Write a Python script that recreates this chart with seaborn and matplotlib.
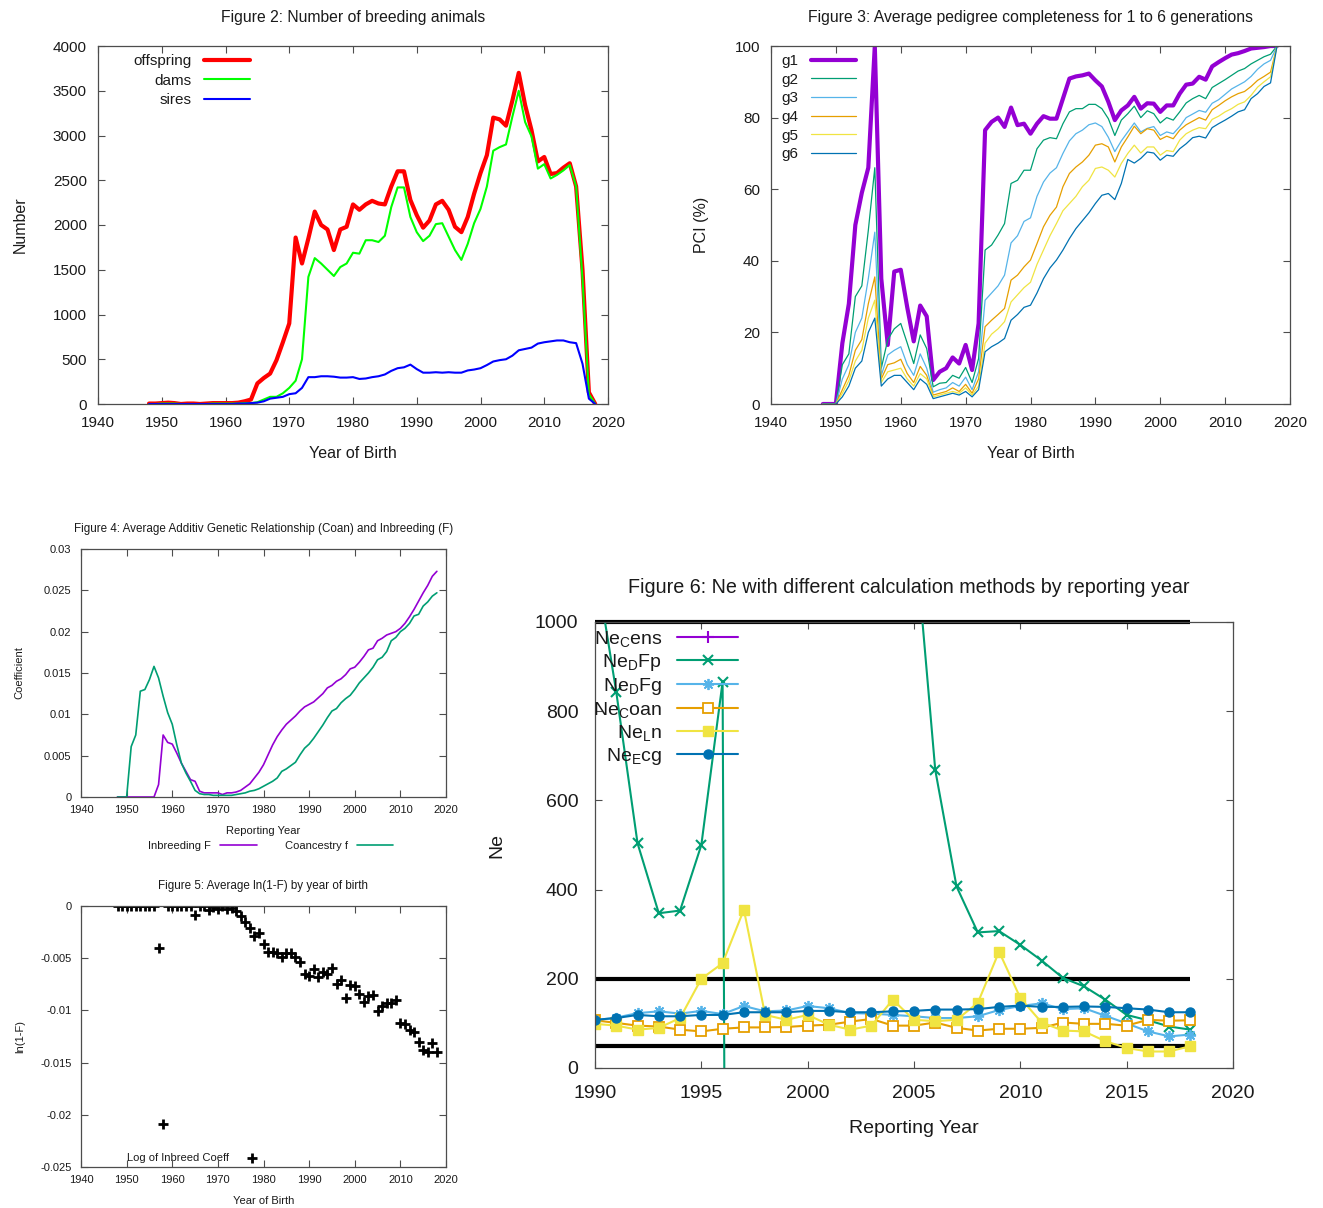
import numpy as np
import pandas as pd
import matplotlib
matplotlib.use("Agg")
import matplotlib.pyplot as plt
import seaborn as sns
from matplotlib.ticker import FuncFormatter, MultipleLocator

sns.set_style("ticks")
plt.rcParams["font.family"] = ["Liberation Sans", "DejaVu Sans"]
plt.rcParams["axes.unicode_minus"] = False
plt.rcParams["mathtext.fontset"] = "custom"
plt.rcParams["mathtext.rm"] = "Liberation Sans"
plt.rcParams["mathtext.it"] = "Liberation Sans:italic"
plt.rcParams["mathtext.bf"] = "Liberation Sans:bold"
plt.rcParams["text.color"] = "#1a1a1a"
plt.rcParams["axes.labelcolor"] = "#1a1a1a"

# gnuplot default line colours
PURPLE, GREEN, SKY = "#9400d3", "#009e73", "#56b4e9"
ORANGE, YELLOW, BLUE = "#e69f00", "#f0e442", "#0072b2"

# ---------------------------------------------------------------
# Figure 2 / 3 / 4 / 5 : one value per year of birth, 1948-2018
birth_years = list(range(1948, 2019))

offspring = [5, 5,
             10, 15, 10, 0, 5, 5, 0, 5, 10, 10,
             10, 10, 15, 30, 50, 230, 290, 340, 490, 690,
             900, 1860, 1570, 1850, 2150, 2000, 1950, 1720, 1950, 1980,
             2230, 2170, 2230, 2270, 2240, 2230, 2430, 2600, 2600, 2280,
             2110, 1970, 2050, 2230, 2270, 2170, 1980, 1920, 2090, 2350,
             2580, 2780, 3200, 3180, 3110, 3390, 3700, 3340, 3060, 2710,
             2760, 2570, 2580, 2640, 2690, 2430, 1500, 130, 0]
dams = [0, 0,
        5, 5, 5, 0, 0, 0, 0, 0, 5, 5,
        5, 5, 5, 10, 10, 20, 50, 80, 80, 120,
        180, 260, 500, 1420, 1630, 1570, 1500, 1430, 1530, 1570,
        1690, 1680, 1830, 1830, 1810, 1880, 2200, 2420, 2420, 2090,
        1920, 1820, 1880, 2010, 2020, 1870, 1720, 1610, 1790, 2020,
        2180, 2430, 2830, 2870, 2900, 3210, 3500, 3150, 2990, 2630,
        2680, 2520, 2560, 2610, 2670, 2430, 1400, 110, 0]
sires = [0, 0,
         0, 0, 0, 0, 0, 0, 0, 0, 0, 0,
         0, 0, 5, 5, 10, 15, 30, 60, 70, 80,
         110, 120, 180, 300, 300, 310, 310, 305, 295, 295,
         300, 280, 285, 300, 310, 330, 370, 400, 410, 440,
         390, 350, 350, 355, 350, 355, 350, 350, 375, 385,
         400, 435, 475, 490, 500, 540, 600, 615, 630, 675,
         690, 700, 710, 710, 690, 680, 450, 60, 0]

# pedigree completeness index (%) for 1..6 generations
pci_g1 = [0, 0,
          0, 17, 28, 50, 59, 66, 100, 35, 16.5, 37,
          37.5, 27, 17.5, 27.5, 24.5, 6.7, 9, 10, 13, 11.3,
          16.5, 9.5, 22.5, 76.5, 78.8, 80, 77.4, 82.8, 77.9, 78.3,
          75.5, 78.3, 80.4, 79.7, 79.7, 85.3, 90.9, 91.5, 91.8, 92.3,
          90.4, 88.7, 84.4, 79.3, 82, 83.4, 85.8, 82.5, 84, 83.9,
          81.6, 83.4, 83.4, 86.7, 89.2, 89.5, 91.4, 90.6, 94.3, 95.5,
          96.6, 97.6, 98, 98.6, 99.3, 99.5, 99.7, 100, 100]
pci_g2 = [0, 0,
          0, 11, 14, 30, 33, 48.5, 66, 10, 18, 21,
          22.5, 17, 11.3, 19.3, 15.5, 4.8, 5.8, 6, 8, 7.2,
          10.2, 6, 12.7, 43, 44.4, 47.2, 50.4, 61.6, 62.5, 65.3,
          65.3, 71.3, 73.7, 74.4, 74.1, 78.3, 81.6, 82.5, 82.5, 83.7,
          83.7, 82.5, 79.7, 75, 79.3, 81.1, 83.2, 80, 81.9, 81.1,
          78.5, 80, 79.3, 81.6, 84.1, 85.3, 86.2, 85.3, 88.4, 89.5,
          90.6, 91.8, 93, 93.7, 95, 96, 97, 97.7, 100]
pci_g3 = [0, 0,
          0, 7, 11, 20, 24, 35, 48, 8, 13.7, 15,
          16, 11, 8, 14, 10, 3.3, 4, 4.5, 6, 5,
          7.5, 4, 9, 29, 31, 33, 36, 45, 47, 51,
          52, 58, 62, 64.5, 66, 70, 73.5, 75.5, 76.5, 78,
          78.5, 77.5, 74.5, 70.5, 73.5, 76, 78.5, 76, 77, 77.5,
          75, 76, 75.5, 77.5, 80, 81, 82, 81.5, 84, 85,
          86.5, 88, 89, 90, 91.5, 93.5, 95, 96, 100]
pci_g4 = [0, 0,
          0, 4, 8, 15, 18, 28, 35.5, 7, 11, 11.5,
          12.5, 8.5, 6, 10.5, 8, 2.5, 3, 3.5, 4.5, 3.5,
          5.5, 3, 7, 21.6, 23.4, 25, 26.7, 34.6, 36, 38.3,
          40.2, 44.8, 49.5, 52.7, 55, 60.7, 64.4, 66.2, 67.6, 69.5,
          72.3, 72.7, 71.8, 67.6, 71.8, 74.6, 77.6, 75.5, 76.9, 76.5,
          73.9, 74.8, 74.1, 76.5, 78, 79, 80, 79.3, 82.2, 83.4,
          84.7, 85.8, 86.7, 87.3, 88.7, 90.4, 91.5, 92.7, 100]
pci_g5 = [0, 0,
          0, 3, 6.5, 12, 15, 24, 29, 6, 9, 9.5,
          10, 7, 5, 8.5, 7, 2, 2.5, 3, 3.5, 3,
          4.5, 2.5, 5, 17, 19.5, 21, 23, 28.5, 30.5, 32.5,
          34, 39, 43, 47, 50.4, 54, 56, 58, 60.7, 62.5,
          65.8, 66.2, 65.3, 63.4, 67.2, 70, 72.3, 70.1, 71.8, 71.8,
          69.5, 70.8, 70.5, 73.7, 75.5, 76.5, 77.2, 76.9, 79.5, 80.4,
          81.6, 82.5, 83.7, 84.4, 86.2, 88.5, 90, 91.4, 100]
pci_g6 = [0, 0,
          0, 2, 5, 10, 12, 20, 24, 5, 7, 8,
          8, 6, 4, 7, 5.5, 1.5, 2, 2.5, 3, 2.5,
          3.5, 2, 4, 14.6, 16, 17, 18.3, 23.4, 25, 27,
          27.6, 31, 35, 38, 40.2, 43, 46.2, 49, 51.2, 53.4,
          56, 58.3, 58.8, 57.1, 61.6, 68.3, 67.3, 68.6, 70.4, 70.1,
          68.1, 69.5, 69.2, 71.3, 72.7, 74.4, 74.8, 74.3, 77.2, 78.3,
          79.3, 80.4, 81.6, 82.2, 85.3, 86.7, 88.7, 89.7, 100]

inbreeding_f = [0, 0,
                0, 0, 0, 0, 0, 0, 0, 0.0015, 0.0075, 0.0066,
                0.0064, 0.0053, 0.0041, 0.0031, 0.0021, 0.0019, 0.0007, 0.0005, 0.0005, 0.0005,
                0.0005, 0.0003, 0.0005, 0.0005, 0.0006, 0.0008, 0.0012, 0.0016, 0.0023, 0.003,
                0.0039, 0.0051, 0.0063, 0.0073, 0.0081, 0.0088, 0.0093, 0.0098, 0.0104, 0.0109,
                0.0112, 0.0115, 0.012, 0.0125, 0.0132, 0.0135, 0.014, 0.0143, 0.0148, 0.0155,
                0.0157, 0.0163, 0.017, 0.0178, 0.018, 0.0189, 0.0192, 0.0196, 0.0198, 0.02,
                0.0204, 0.021, 0.0218, 0.0227, 0.0237, 0.0247, 0.0256, 0.0267, 0.0273]
coancestry_f = [0, 0,
                0, 0.0061, 0.0075, 0.0128, 0.013, 0.0142, 0.0158, 0.0144, 0.0122, 0.0102,
                0.0088, 0.0063, 0.0041, 0.0029, 0.0019, 0.0008, 0.0004, 0.0003, 0.0003, 0.0002,
                0.0002, 0.0002, 0.0002, 0.0002, 0.0003, 0.0004, 0.0005, 0.0007, 0.0008, 0.001,
                0.0013, 0.0016, 0.0019, 0.0023, 0.0031, 0.0034, 0.0038, 0.0042, 0.0051, 0.0059,
                0.0064, 0.0071, 0.0079, 0.0087, 0.0096, 0.0104, 0.0107, 0.0114, 0.0119, 0.0123,
                0.013, 0.0138, 0.0144, 0.015, 0.0157, 0.0166, 0.0169, 0.0176, 0.0189, 0.0193,
                0.02, 0.0204, 0.021, 0.0219, 0.0221, 0.0231, 0.0236, 0.0243, 0.0247]

log_one_minus_f = [0, 0,
                   0, 0, 0, 0, 0, 0, 0, -0.004, -0.0209, 0,
                   0, 0, 0, 0, 0, -0.0009, 0, 0, -0.0004, -0.0001,
                   -0.0003, 0, -0.0003, -0.0002, -0.0005, -0.001, -0.0015, -0.0021, -0.0029, -0.0026,
                   -0.0036, -0.0044, -0.0044, -0.0045, -0.0049, -0.0045, -0.0045, -0.0049, -0.0054, -0.0065,
                   -0.0067, -0.006, -0.0068, -0.0063, -0.0065, -0.0059, -0.0075, -0.0071, -0.0088, -0.0076,
                   -0.0077, -0.0084, -0.0092, -0.0086, -0.0085, -0.0101, -0.0096, -0.0093, -0.0093, -0.009,
                   -0.0112, -0.0113, -0.0119, -0.0121, -0.013, -0.0138, -0.014, -0.0131, -0.014]

# ---------------------------------------------------------------
# Figure 6 : Ne by reporting year, 1990-2018
ne_years = list(range(1990, 2019))
# no point of the census series falls inside the plotted 0-1000 range
ne_cens = [np.nan] * len(ne_years)
ne_dfp = [1140, 843, 504, 347, 353, 500, 866, -10000,
          np.nan, np.nan, np.nan, np.nan, np.nan, np.nan, np.nan,
          1220, 668, 407, 304, 307, 276, 241, 202, 183, 153, 119, 107, 93, 86]
ne_dfg = [107, 113, 123, 127, 122, 128, 121, 139, 127, 129,
          139, 134, 123, 122, 119, 116, 112, 112, 116, 130,
          139, 145, 132, 134, 117, 100, 82, 71, 75]
ne_coan = [107, 101, 95, 93, 86, 82, 88, 91, 91, 92,
           95, 97, 104, 110, 95, 95, 102, 90, 84, 88,
           88, 90, 102, 99, 99, 95, 108, 106, 107]
ne_ln = [99, 95, 86, 90, 112, 200, 235, 355, 119, 108,
         119, 97, 86, 95, 153, 108, 105, 108, 146, 261,
         157, 102, 84, 82, 60, 45, 37, 37, 49]
ne_ecg = [108, 112, 119, 116, 116, 119, 119, 125, 125, 125,
          128, 128, 125, 125, 127, 128, 131, 131, 132, 137,
          140, 137, 137, 138, 137, 134, 131, 125, 125]
ne_limits = [1000, 200, 50]


def gnuplot_frame(ax, size, xpad, ypad):
    for sp in ax.spines.values():
        sp.set_visible(True)
        sp.set_color("#4d4d4d")
        sp.set_linewidth(0.9)
    ax.tick_params(direction="in", top=True, right=True, length=5, width=0.8,
                   color="#4d4d4d", labelsize=size, labelcolor="#1a1a1a")
    ax.tick_params(axis="x", pad=xpad)
    ax.tick_params(axis="y", pad=ypad)


def right_align(leg):
    # gnuplot style key: text right justified in front of the sample
    for col in leg._legend_box._children[-1]._children:
        col.align = "right"


short_num = FuncFormatter(lambda v, p: "0" if abs(v) < 1e-12 else f"{v:g}")

W, H = 1323, 1208
fig = plt.figure(figsize=(W / 100, H / 100), dpi=100)


def box(x0, y0, x1, y1):
    return [x0 / W, 1 - y1 / H, (x1 - x0) / W, (y1 - y0) / H]


ax2 = fig.add_axes(box(98, 46, 608, 404))
ax3 = fig.add_axes(box(771, 46, 1290, 404))
ax4 = fig.add_axes(box(81, 549, 446, 797))
ax5 = fig.add_axes(box(81, 906, 446, 1167))
ax6 = fig.add_axes(box(595, 622, 1233, 1068))

# ---- Figure 2
sns.lineplot(x=birth_years, y=offspring, ax=ax2, color="#ff0000", lw=3, label="offspring")
sns.lineplot(x=birth_years, y=dams, ax=ax2, color="#00ff00", lw=1.5, label="dams")
sns.lineplot(x=birth_years, y=sires, ax=ax2, color="#0000ff", lw=1.5, label="sires")
ax2.set_xlim(1940, 2020)
ax2.set_ylim(0, 4000)
ax2.xaxis.set_major_locator(MultipleLocator(10))
ax2.yaxis.set_major_locator(MultipleLocator(500))
gnuplot_frame(ax2, 11, 8.5, 8)
ax2.set_title("Figure 2: Number of breeding animals", fontsize=11.3, pad=17)
ax2.set_xlabel("Year of Birth", fontsize=11.5, labelpad=12)
ax2.set_ylabel("Number", fontsize=11.5, labelpad=18)
leg = ax2.legend(loc="upper left", bbox_to_anchor=(0.07, 0.977), frameon=False,
                 markerfirst=False, handlelength=3.0, handletextpad=0.8,
                 labelspacing=0.35, borderpad=0, borderaxespad=0, fontsize=11)
right_align(leg)

# ---- Figure 3
pci = {"g1": pci_g1, "g2": pci_g2, "g3": pci_g3, "g4": pci_g4, "g5": pci_g5, "g6": pci_g6}
pci_colors = [PURPLE, GREEN, SKY, ORANGE, YELLOW, BLUE]
for (name, vals), col in zip(pci.items(), pci_colors):
    sns.lineplot(x=birth_years, y=vals, ax=ax3, color=col,
                 lw=3 if name == "g1" else 0.9, label=name)
ax3.set_xlim(1940, 2020)
ax3.set_ylim(0, 100)
ax3.xaxis.set_major_locator(MultipleLocator(10))
ax3.yaxis.set_major_locator(MultipleLocator(20))
gnuplot_frame(ax3, 11, 8.5, 8)
ax3.set_title("Figure 3: Average pedigree completeness for 1 to 6 generations",
              fontsize=11.3, pad=17)
ax3.set_xlabel("Year of Birth", fontsize=11.5, labelpad=12)
ax3.set_ylabel("PCI (%)", fontsize=11.5, labelpad=18)
leg = ax3.legend(loc="upper left", bbox_to_anchor=(0.02, 0.977), frameon=False,
                 markerfirst=False, handlelength=3.0, handletextpad=0.8,
                 labelspacing=0.3, borderpad=0, borderaxespad=0, fontsize=11)
right_align(leg)

# ---- Figure 4
sns.lineplot(x=birth_years, y=inbreeding_f, ax=ax4, color=PURPLE, lw=1.2, label="Inbreeding F")
sns.lineplot(x=birth_years, y=coancestry_f, ax=ax4, color=GREEN, lw=1.2, label="Coancestry f")
ax4.set_xlim(1940, 2020)
ax4.set_ylim(0, 0.03)
ax4.xaxis.set_major_locator(MultipleLocator(10))
ax4.yaxis.set_major_locator(MultipleLocator(0.005))
ax4.yaxis.set_major_formatter(short_num)
gnuplot_frame(ax4, 8, 6, 7)
ax4.set_title("Figure 4: Average Additiv Genetic Relationship (Coan) and Inbreeding (F)",
              fontsize=8.4, pad=12.5)
ax4.set_xlabel("Reporting Year", fontsize=8, labelpad=8)
ax4.set_ylabel("Coefficient", fontsize=8, labelpad=14)
ax4.legend(loc="upper center", bbox_to_anchor=(0.52, -0.155), ncol=2, frameon=False,
           markerfirst=False, handlelength=3.3, handletextpad=0.8, columnspacing=2.5,
           borderpad=0, fontsize=8)

# ---- Figure 5
sns.scatterplot(x=birth_years, y=log_one_minus_f, ax=ax5, marker="+", s=55,
                linewidth=2, color="black", label="Log of Inbreed Coeff")
ax5.set_xlim(1940, 2020)
ax5.set_ylim(-0.025, 0)
ax5.xaxis.set_major_locator(MultipleLocator(10))
ax5.yaxis.set_major_locator(MultipleLocator(0.005))
ax5.yaxis.set_major_formatter(short_num)
gnuplot_frame(ax5, 8, 6, 6.5)
ax5.set_title("Figure 5: Average ln(1-F) by year of birth", fontsize=8.4, pad=12.5)
ax5.set_xlabel("Year of Birth", fontsize=8, labelpad=8)
ax5.set_ylabel("ln(1-F)", fontsize=8, labelpad=11)
ax5.legend(loc="lower left", bbox_to_anchor=(0.11, -0.005), frameon=False, markerfirst=False,
           scatterpoints=1, handlelength=3, handletextpad=0.6, borderpad=0, fontsize=8)

# ---- Figure 6
ax6.hlines(ne_limits, ne_years[0], ne_years[-1], colors="black", lw=3, zorder=1.5, clip_on=False)
handles = []
ax6.plot(ne_years, ne_cens, color=PURPLE, lw=1.5, marker="+", ms=8, mew=1.5)
handles.append(ax6.lines[-1])

dfp = pd.DataFrame({"year": ne_years, "ne": ne_dfp}).dropna()
# the years without an estimate split the curve into two pieces
dfp["piece"] = (dfp["year"].diff() > 1).cumsum()
n = len(ax6.lines)
sns.lineplot(data=dfp, x="year", y="ne", units="piece", estimator=None, ax=ax6,
             color=GREEN, lw=1.5, marker="x", markersize=7, mec=GREEN, mew=1.5)
handles.append(ax6.lines[n])

ne_styles = [(ne_dfg, SKY, dict(marker=(8, 2, 0), markersize=8, mew=1.3, mec=SKY)),
             (ne_coan, ORANGE, dict(marker="s", markersize=6.5, mew=1.3, mec=ORANGE, mfc="white")),
             (ne_ln, YELLOW, dict(marker="s", markersize=7, mew=1, mec=YELLOW)),
             (ne_ecg, BLUE, dict(marker="o", markersize=6.5, mew=1, mec=BLUE))]
for vals, col, mk in ne_styles:
    n = len(ax6.lines)
    sns.lineplot(x=ne_years, y=vals, ax=ax6, color=col, lw=1.5, estimator=None, **mk)
    handles.append(ax6.lines[n])

ne_labels = [r"Ne$_{\mathrm{C}}$ens", r"Ne$_{\mathrm{D}}$Fp", r"Ne$_{\mathrm{D}}$Fg",
             r"Ne$_{\mathrm{C}}$oan", r"Ne$_{\mathrm{L}}$n", r"Ne$_{\mathrm{E}}$cg"]
ax6.set_xlim(1990, 2020)
ax6.set_ylim(0, 1000)
ax6.xaxis.set_major_locator(MultipleLocator(5))
ax6.yaxis.set_major_locator(MultipleLocator(200))
gnuplot_frame(ax6, 14, 12, 12)
ax6.set_title("Figure 6: Ne with different calculation methods by reporting year",
              fontsize=14.2, pad=21, x=0.492)
ax6.set_xlabel("Reporting Year", fontsize=14, labelpad=13)
ax6.set_ylabel("Ne", fontsize=14, labelpad=21)
leg = ax6.legend(handles, ne_labels, loc="upper left", bbox_to_anchor=(-0.003, 0.985),
                 frameon=False, markerfirst=False, numpoints=1, handlelength=3.1,
                 handletextpad=0.8, labelspacing=0.16, borderpad=0, borderaxespad=0,
                 fontsize=14)
right_align(leg)

fig.savefig("out.png", dpi=100)
